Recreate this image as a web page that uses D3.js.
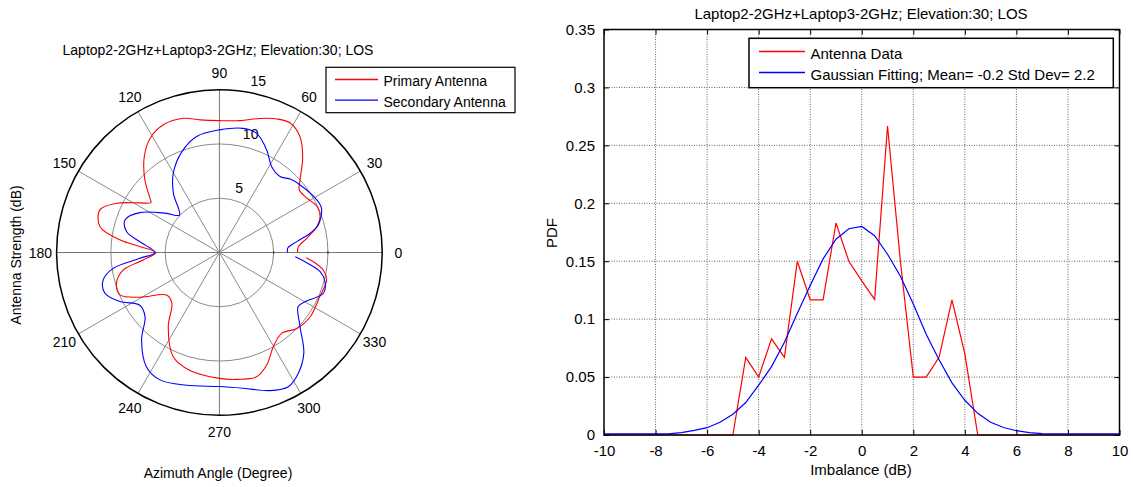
<!DOCTYPE html>
<html>
<head>
<meta charset="utf-8">
<script src="https://cdn.jsdelivr.net/npm/d3@7"></script>
<style>
  body { margin: 0; background: #fff; }
  text { font-family: Arial, "Liberation Sans", sans-serif; fill: #000; }
</style>
</head>
<body>
<svg id="chart" width="1133" height="487"></svg>
<script>
// left: polar antenna pattern (angle in degrees, strength in dB)
var primaryAngle = [0, 4.2, 9.2, 14.9, 19.6, 25.1, 31.8, 38, 42, 49, 55.2, 61.3, 66.7, 73.2, 81.1, 90,
  98.3, 105, 113.7, 121.3, 128.2, 135.7, 142.6, 144, 147.9, 154.4, 160.4, 167.8, 172.8, 175.8, 180,
  185.6, 190.3, 196.7, 203.1, 209.4, 218.9, 226.8, 235.4, 246.1, 256, 270,
  277.8, 286.7, 292.8, 299.8, 307.6, 315.6, 324.7, 336.3, 345.6, 350.4, 354.4, 356.6];
var primaryValue = [7.2, 7.3, 8.15, 9.3, 9.85, 9.95, 9.5, 9.35, 10.0, 11.7, 13.0, 13.6, 13.4, 12.9, 12.3, 12.15,
  12.35, 12.8, 12.85, 12.3, 11.2, 9.6, 8.0, 7.8, 8.6, 10.5, 11.7, 11.25, 9.2, 7.3, 5.85,
  7.05, 9.0, 9.9, 9.95, 8.4, 6.25, 6.4, 8.3, 10.5, 11.2, 11.6,
  11.8, 11.95, 11.25, 10.0, 9.4, 10.0, 10.25, 10.1, 10.2, 9.7, 8.7, 8.0];

var secondaryAngle = [0, 3.5, 8, 12, 15.5, 23.4, 28.4, 39.9, 46, 51.4, 58.6, 65.2, 72.6, 79.1, 90,
  101.1, 110.5, 120.2, 127.9, 136.9, 143.4, 153.4, 161, 167.4, 172.3, 180,
  184.2, 188.5, 193.3, 199.6, 206.3, 213.5, 220.8, 228.4, 237.5, 245, 256.1, 270,
  280, 290.1, 297.2, 303.1, 310, 317.4, 325.5, 330.1, 338.6, 344.5, 349.2, 353.3, 356.8];
var secondaryValue = [6.3, 6.3, 7.2, 8.55, 9.45, 10.25, 10.2, 9.7, 9.4, 8.95, 9.25, 10.4, 11.5, 11.65, 11.3,
  10.9, 9.9, 8.45, 6.9, 5.05, 6.05, 8.2, 9.2, 8.75, 7.4, 5.95,
  7.35, 9.9, 11.0, 11.2, 10.2, 8.8, 9.05, 10.8, 12.5, 12.95, 12.6, 12.35,
  12.7, 13.55, 13.9, 13.3, 12.1, 10.1, 8.8, 9.1, 10.3, 10.1, 9.45, 8.1, 7.0];

var angleTicks = [0, 30, 60, 90, 120, 150, 180, 210, 240, 270, 300, 330];
var radiusTicks = [5, 10, 15];

// right: imbalance PDF
var imbalance = [-10, -5, -4.5, -4, -3.5, -3, -2.5, -2, -1.5, -1, -0.5, 0, 0.5, 1, 1.5, 2, 2.5, 3, 3.5, 4, 4.5, 10];
var antennaPdf = [0, 0, 0.067, 0.05, 0.083, 0.067, 0.15, 0.1167, 0.1167, 0.183, 0.15, 0.133, 0.117, 0.2667,
  0.15, 0.05, 0.05, 0.067, 0.1167, 0.07, 0, 0];

var fitX = [-10, -9.5, -9, -8.5, -8, -7.5, -7, -6.5, -6, -5.5, -5, -4.5, -4, -3.5, -3, -2.5, -2, -1.5, -1, -0.5,
  0, 0.5, 1, 1.5, 2, 2.5, 3, 3.5, 4, 4.5, 5, 5.5, 6, 6.5, 7, 7.5, 8, 8.5, 9, 9.5, 10];
var fitPdf = [0.001, 0.001, 0.001, 0.001, 0.001, 0.001, 0.002, 0.004, 0.0063, 0.011, 0.018, 0.028, 0.043, 0.059,
  0.08, 0.105, 0.129, 0.152, 0.169, 0.178, 0.18, 0.172, 0.156, 0.137, 0.113, 0.087, 0.065, 0.045, 0.03, 0.0187,
  0.011, 0.0065, 0.0037, 0.002, 0.0012, 0.001, 0.001, 0.001, 0.001, 0.001, 0.001];

var xTicks = [-10, -8, -6, -4, -2, 0, 2, 4, 6, 8, 10];
var yTicks = [0, 0.05, 0.1, 0.15, 0.2, 0.25, 0.3, 0.35];

var title = "Laptop2-2GHz+Laptop3-2GHz; Elevation:30; LOS";

var svg = d3.select("#chart");
svg.append("rect").attr("width", 1133).attr("height", 487).attr("fill", "#fff");

// ---------- polar plot ----------
var cx = 219.4, cy = 252.5, R = 162.8;
var rScale = d3.scaleLinear().domain([0, 15]).range([0, R]);
var toRad = function (deg) { return deg * Math.PI / 180; };

var polar = svg.append("g").attr("transform", "translate(" + cx + "," + cy + ")");

// rings
polar.selectAll("circle.ring")
    .data(radiusTicks.slice(0, 2))
    .enter().append("circle")
    .attr("r", function (d) { return rScale(d); })
    .attr("fill", "none")
    .attr("stroke", "#8a8a8a")
    .attr("stroke-width", 1);

// spokes
polar.selectAll("line.spoke")
    .data(angleTicks)
    .enter().append("line")
    .attr("x1", 0).attr("y1", 0)
    .attr("x2", function (d) { return R * Math.cos(toRad(d)); })
    .attr("y2", function (d) { return -R * Math.sin(toRad(d)); })
    .attr("stroke", function (d) { return d % 90 === 0 ? "#777" : "#8a8a8a"; })
    .attr("stroke-width", 1);

// small ticks on the horizontal axis
polar.selectAll("line.rtick")
    .data([5, 10])
    .enter().append("line")
    .attr("x1", function (d) { return rScale(d); })
    .attr("x2", function (d) { return rScale(d); })
    .attr("y1", -1.5).attr("y2", 1.5)
    .attr("stroke", "#333");

// outer circle
polar.append("circle")
    .attr("r", R)
    .attr("fill", "none")
    .attr("stroke", "#000")
    .attr("stroke-width", 1.5);

// angle labels
polar.selectAll("text.ang")
    .data(angleTicks)
    .enter().append("text")
    .attr("x", function (d) { return 1.1 * R * Math.cos(toRad(d)); })
    .attr("y", function (d) { return -1.1 * R * Math.sin(toRad(d)); })
    .attr("dy", "0.36em")
    .attr("text-anchor", "middle")
    .style("font-size", "14px")
    .text(function (d) { return d; });

// radius labels
polar.selectAll("text.rad")
    .data(radiusTicks)
    .enter().append("text")
    .attr("x", function (d) { return rScale(d + 0.25) * Math.cos(toRad(82)) + 8; })
    .attr("y", function (d) { return -rScale(d + 0.25) * Math.sin(toRad(82)) - 3; })
    .style("font-size", "14px")
    .text(function (d) { return d; });

var radial = d3.lineRadial()
    .angle(function (d) { return toRad(90 - d[0]); })
    .radius(function (d) { return rScale(d[1]); })
    .curve(d3.curveCatmullRom.alpha(0.5));

polar.append("path")
    .datum(d3.zip(primaryAngle, primaryValue))
    .attr("d", radial)
    .attr("fill", "none")
    .style("stroke", "#ff0000")
    .attr("stroke-width", 1.1);

polar.append("path")
    .datum(d3.zip(secondaryAngle, secondaryValue))
    .attr("d", radial)
    .attr("fill", "none")
    .style("stroke", "#0000ff")
    .attr("stroke-width", 1.1);

svg.append("text")
    .attr("x", 218).attr("y", 55)
    .attr("text-anchor", "middle")
    .style("font-size", "14px")
    .text(title);

svg.append("text")
    .attr("x", 218).attr("y", 478)
    .attr("text-anchor", "middle")
    .style("font-size", "14px")
    .text("Azimuth Angle (Degree)");

svg.append("text")
    .attr("transform", "translate(21,255) rotate(-90)")
    .attr("text-anchor", "middle")
    .style("font-size", "14px")
    .text("Antenna Strength (dB)");

// left legend
var legL = svg.append("g");
legL.append("rect")
    .attr("x", 326).attr("y", 67.3)
    .attr("width", 189).attr("height", 45.4)
    .attr("fill", "#fff").attr("stroke", "#000").attr("stroke-width", 1.2);
var legLItems = [{ label: "Primary Antenna", color: "#ff0000" }, { label: "Secondary Antenna", color: "#0000ff" }];
legL.selectAll("line.item")
    .data(legLItems)
    .enter().append("line")
    .attr("x1", 335).attr("x2", 378)
    .attr("y1", function (d, i) { return 79.5 + i * 20.7; })
    .attr("y2", function (d, i) { return 79.5 + i * 20.7; })
    .style("stroke", function (d) { return d.color; })
    .style("stroke-width", 1.3);
legL.selectAll("text.item")
    .data(legLItems)
    .enter().append("text")
    .attr("x", 383.5)
    .attr("y", function (d, i) { return 86 + i * 20.7; })
    .style("font-size", "14px")
    .text(function (d) { return d.label; });

// ---------- PDF plot ----------
var x = d3.scaleLinear().domain([-10, 10]).range([604, 1119.5]);
var y = d3.scaleLinear().domain([0, 0.35]).range([435, 29.5]);

var grid = svg.append("g");
grid.selectAll("line.gx")
    .data(xTicks.slice(1, -1))
    .enter().append("line")
    .attr("x1", function (d) { return x(d); })
    .attr("x2", function (d) { return x(d); })
    .attr("y1", y(0)).attr("y2", y(0.35))
    .attr("stroke", "#666").attr("stroke-dasharray", "1,1.5");
grid.selectAll("line.gy")
    .data(yTicks.slice(1, -1))
    .enter().append("line")
    .attr("x1", x(-10)).attr("x2", x(10))
    .attr("y1", function (d) { return y(d); })
    .attr("y2", function (d) { return y(d); })
    .attr("stroke", "#666").attr("stroke-dasharray", "1,1.5");

var line = d3.line()
    .x(function (d) { return x(d[0]); })
    .y(function (d) { return y(d[1]); });

svg.append("path")
    .datum(d3.zip(imbalance, antennaPdf))
    .attr("d", line)
    .attr("fill", "none")
    .style("stroke", "#ff0000")
    .attr("stroke-width", 1.2);

svg.append("path")
    .datum(d3.zip(fitX, fitPdf))
    .attr("d", line)
    .attr("fill", "none")
    .style("stroke", "#0000ff")
    .attr("stroke-width", 1.2);

// plain hyphen for negatives, like the original
var fmt = function (d) { return String(+d.toFixed(2)); };

svg.append("g")
    .attr("transform", "translate(0," + y(0) + ")")
    .call(d3.axisBottom(x).tickValues(xTicks).tickSize(-5).tickPadding(10).tickFormat(fmt))
    .call(function (g) { g.select(".domain").remove(); });
svg.append("g")
    .attr("transform", "translate(0," + y(0.35) + ")")
    .call(d3.axisTop(x).tickValues(xTicks).tickSize(-5).tickFormat(""))
    .call(function (g) { g.select(".domain").remove(); });
svg.append("g")
    .attr("transform", "translate(" + x(-10) + ",0)")
    .call(d3.axisLeft(y).tickValues(yTicks).tickSize(-5).tickPadding(9).tickFormat(fmt))
    .call(function (g) { g.select(".domain").remove(); });
svg.append("g")
    .attr("transform", "translate(" + x(10) + ",0)")
    .call(d3.axisRight(y).tickValues(yTicks).tickSize(-5).tickFormat(""))
    .call(function (g) { g.select(".domain").remove(); });

svg.selectAll(".tick text").style("font-size", "15px").attr("fill", "#000");
svg.selectAll(".tick line").attr("stroke", "#000");

svg.append("rect")
    .attr("x", x(-10)).attr("y", y(0.35))
    .attr("width", x(10) - x(-10)).attr("height", y(0) - y(0.35))
    .attr("fill", "none").attr("stroke", "#000").attr("stroke-width", 1.5);

svg.append("text")
    .attr("x", 861).attr("y", 18.5)
    .attr("text-anchor", "middle")
    .style("font-size", "15px")
    .text(title);

svg.append("text")
    .attr("x", 861).attr("y", 475)
    .attr("text-anchor", "middle")
    .style("font-size", "15px")
    .text("Imbalance (dB)");

svg.append("text")
    .attr("transform", "translate(557,233) rotate(-90)")
    .attr("text-anchor", "middle")
    .style("font-size", "15px")
    .text("PDF");

// right legend
var legR = svg.append("g");
legR.append("rect")
    .attr("x", 749).attr("y", 38.3)
    .attr("width", 364.3).attr("height", 49.4)
    .attr("fill", "#fff").attr("stroke", "#000").attr("stroke-width", 1.5);
var legRItems = [{ label: "Antenna Data", color: "#ff0000" },
  { label: "Gaussian Fitting; Mean= -0.2 Std Dev= 2.2", color: "#0000ff" }];
legR.selectAll("line.item")
    .data(legRItems)
    .enter().append("line")
    .attr("x1", 759).attr("x2", 805)
    .attr("y1", function (d, i) { return 51.5 + i * 21; })
    .attr("y2", function (d, i) { return 51.5 + i * 21; })
    .style("stroke", function (d) { return d.color; })
    .style("stroke-width", 1.3);
legR.selectAll("text.item")
    .data(legRItems)
    .enter().append("text")
    .attr("x", 810.5)
    .attr("y", function (d, i) { return 58.5 + i * 21.5; })
    .style("font-size", "15px")
    .text(function (d) { return d.label; });
</script>
</body>
</html>
